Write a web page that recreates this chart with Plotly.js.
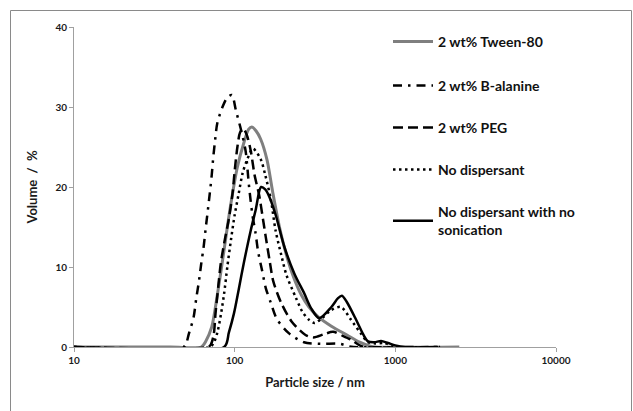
<!DOCTYPE html>
<html>
<head>
<meta charset="utf-8">
<script src="https://cdn.plot.ly/plotly-3.0.1.min.js"></script>
<style>
html,body{margin:0;padding:0;background:#fff;}
#chart{width:633px;height:411px;}
</style>
</head>
<body>
<div id="chart"></div>
<script>
// Series names
var seriesNames = ["2 wt% Tween-80", "2 wt% B-alanine", "2 wt% PEG", "No dispersant", "No dispersant with no<br>sonication"];

// 2 wt% Tween-80 (grey solid)
var tweenX = [10, 40, 62, 66, 72, 78, 85, 94, 104, 114, 122, 128, 136, 145, 159, 172, 190, 210, 235, 260, 290, 330, 400, 500, 600, 700, 750, 2500];
var tweenY = [0, 0, 0, 0.7, 2.5, 6.5, 11.5, 17.5, 22.5, 25.5, 27.2, 27.5, 27, 26, 23.4, 19.5, 15, 11.5, 8.5, 6.5, 5, 3.8, 2.6, 1.5, 0.6, 0.1, 0, 0];

// 2 wt% B-alanine (dash-dot)
var alaX = [10, 48, 50, 51.8, 55.5, 57.6, 60, 62, 64, 66, 68, 70, 72, 73.5, 75.5, 78, 84, 90, 96, 102, 110, 117, 123, 129, 135, 140, 148, 156, 168, 183, 218, 270, 345, 450, 510, 550, 1900];
var alaY = [0, 0, 0.5, 1.6, 3.7, 6, 8.3, 10.5, 12.4, 14.8, 17, 19.2, 21.5, 23.6, 25.8, 28, 30, 31.2, 31.5, 29.5, 27, 24.5, 20, 16.5, 14.2, 11.9, 9.6, 7.4, 5.5, 3.5, 1.7, 0.6, 0.4, 0.4, 0.1, 0, 0];

// 2 wt% PEG (dashed)
var pegX = [10, 68, 71, 74, 76, 79, 82, 87, 92, 97, 100, 104, 108, 113, 119, 126, 133, 142, 150, 156, 165, 174, 195, 226, 276, 310, 360, 410, 470, 530, 600, 650, 1900];
var pegY = [0, 0, 0.3, 1.5, 4.2, 7.5, 10.5, 13.5, 16, 19.2, 22, 25, 26.8, 27.3, 26.5, 24.5, 21.5, 19, 16, 13.8, 10.8, 8.2, 5.5, 3.2, 1.5, 1.2, 1.6, 1.9, 1.4, 0.9, 0.2, 0, 0];

// No dispersant (dotted)
var noDispX = [10, 70, 74, 78, 82, 86, 90, 95, 100, 106, 112, 120, 130, 145, 155, 168, 180, 195, 210, 240, 264, 290, 314, 350, 398, 458, 530, 610, 676, 750, 850, 950, 1050, 1900];
var noDispY = [0, 0, 0.5, 1.8, 4, 6.7, 10, 13.5, 16.5, 19.2, 21.7, 23.5, 24.8, 23.5, 21.5, 18.4, 14.5, 11.5, 9, 6.2, 4.4, 3.4, 3, 3.6, 4.6, 5, 3.4, 1.7, 0.6, 0.45, 0.5, 0.2, 0, 0];

// No dispersant with no sonication (black solid)
var noSonX = [10, 86, 92, 99, 106, 114, 126, 135, 146, 155, 165, 180, 204, 235, 271, 300, 336, 400, 440, 465, 500, 570, 630, 676, 740, 815, 900, 1000, 1150, 1300];
var noSonY = [0, 0, 1.8, 4.2, 7.2, 10.5, 14.6, 17.1, 20, 19.7, 18.7, 16.5, 12.5, 9.2, 6.7, 4.8, 3.6, 5, 6.1, 6.4, 5.6, 3.4, 1.6, 0.7, 0.6, 0.75, 0.5, 0.2, 0, 0];

// Axis ticks
var xTickVals = [10, 100, 1000, 10000];
var xTickText = ["10", "100", "1000", "10000"];
var yTickVals = [0, 10, 20, 30, 40];

var FONT = "Lato, 'Open Sans', sans-serif";
var legendIds = ['legend', 'legend2', 'legend3', 'legend4', 'legend5'];
function mk(i, x, y, color, dash, w) {
  return {x: x, y: y, name: seriesNames[i], type: 'scatter', mode: 'lines',
    legend: legendIds[i],
    line: {color: color, width: w, dash: dash, shape: 'spline', smoothing: 0.8},
    hoverinfo: 'skip'};
}
var traces = [
  mk(0, tweenX, tweenY, '#7f7f7f', 'solid', 3),
  mk(1, alaX, alaY, '#000000', '9px,6px,2.5px,6px', 2.5),
  mk(2, pegX, pegY, '#000000', '10px,5px', 2.5),
  mk(3, noDispX, noDispY, '#000000', '2.5px,3.5px', 2.5),
  mk(4, noSonX, noSonY, '#000000', 'solid', 2.5)
];

var L = 74, R = 77, T = 27, B = 64;
var W = 633 - L - R, H = 411 - T - B;
function px2paperX(p){ return (p - L) / W; }
function px2paperY(p){ return (411 - B - p) / H; }

function legendAt(topPx) {
  return {
    x: px2paperX(388), y: px2paperY(topPx), xanchor: 'left', yanchor: 'top',
    font: {family: FONT, size: 14, color: '#111111', weight: 'bold'},
    bgcolor: 'rgba(0,0,0,0)', itemwidth: 40
  };
}
var legendTops = [26, 70, 112, 154, 196];

var layout = {
  width: 633, height: 411,
  margin: {l: L, r: R, t: T, b: B, pad: 0},
  paper_bgcolor: '#ffffff', plot_bgcolor: '#ffffff',
  font: {family: FONT, color: '#1a1a1a', size: 10, weight: 'bold'},
  showlegend: true,
  legend: legendAt(legendTops[0]),
  legend2: legendAt(legendTops[1]),
  legend3: legendAt(legendTops[2]),
  legend4: legendAt(legendTops[3]),
  legend5: legendAt(legendTops[4]),
  xaxis: {
    type: 'log', range: [1, 4],
    tickvals: xTickVals, ticktext: xTickText,
    ticks: 'outside', ticklen: 4, tickcolor: '#a0a0a0', tickwidth: 1,
    showline: true, linecolor: '#a0a0a0', linewidth: 1,
    showgrid: false, zeroline: false,
    tickfont: {family: FONT, size: 10, color: '#1a1a1a', weight: 'bold'},
    title: {text: 'Particle size / nm', font: {family: FONT, size: 13, color: '#1a1a1a', weight: 'bold'}, standoff: 12}
  },
  yaxis: {
    range: [0, 40], tickvals: yTickVals,
    ticks: 'outside', ticklen: 4, tickcolor: '#a0a0a0', tickwidth: 1,
    showline: true, linecolor: '#a0a0a0', linewidth: 1,
    showgrid: false, zeroline: false,
    tickfont: {family: FONT, size: 10, color: '#1a1a1a', weight: 'bold'},
    title: {text: 'Volume\u00a0\u00a0/\u00a0\u00a0%', font: {family: FONT, size: 13, color: '#1a1a1a', weight: 'bold'}, standoff: 14}
  },
  shapes: [{
    type: 'rect', xref: 'paper', yref: 'paper',
    x0: px2paperX(10.5), x1: px2paperX(631.5), y0: px2paperY(415), y1: px2paperY(10.5),
    line: {color: '#8a8a8a', width: 1}, fillcolor: 'rgba(0,0,0,0)', layer: 'below'
  }]
};

Plotly.newPlot('chart', traces, layout, {displayModeBar: false, staticPlot: true});
</script>
</body>
</html>
